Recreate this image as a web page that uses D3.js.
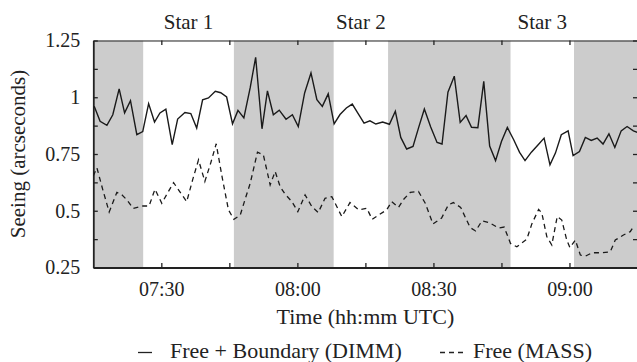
<!DOCTYPE html>
<html>
<head>
<meta charset="utf-8">
<script src="https://cdn.jsdelivr.net/npm/d3@7"></script>
</head>
<body style="margin:0">
<svg id="chart" width="637" height="362"></svg>
<script>
// minutes after 07:00 UTC, seeing in arcseconds
const dimmMin = [15.2,16.5,18.0,19.3,20.7,21.9,23.2,24.6,25.9,27.2,
  28.5,29.7,31.0,32.4,33.6,35.2,36.5,37.8,39.1,40.4,
  41.9,43.1,44.4,45.7,46.9,48.2,49.6,50.8,52.2,53.4,
  54.7,56.0,57.5,58.9,60.2,61.6,63.0,64.3,65.5,66.8,
  68.1,69.4,70.8,72.1,73.3,74.7,76.0,77.3,78.8,80.3,
  81.6,82.8,84.1,85.5,86.7,88.0,89.4,90.8,91.9,93.2,
  94.6,95.9,97.2,98.4,99.8,101.1,102.4,103.7,105.0,106.3,
  107.7,109.0,110.2,111.6,113.1,114.4,115.7,116.9,118.2,119.7,
  120.8,122.2,123.5,124.8,126.1,127.4,128.7,130.0,131.4,132.7,134.1,135.0];
const dimmSeeing = [0.960,0.894,0.876,0.923,1.037,0.931,0.985,0.835,0.849,0.972,
  0.891,0.931,0.948,0.791,0.904,0.933,0.928,0.864,0.989,0.997,
  1.026,1.020,1.001,0.883,0.942,0.909,1.042,1.176,0.861,1.028,
  0.923,0.943,0.903,0.923,0.871,1.019,1.107,0.989,0.960,1.015,
  0.883,0.924,0.953,0.970,0.931,0.886,0.896,0.882,0.891,0.881,
  0.938,0.823,0.772,0.783,0.864,0.948,0.869,0.801,0.794,1.022,
  1.093,0.889,0.919,0.868,0.866,1.070,0.785,0.721,0.805,0.867,
  0.813,0.757,0.721,0.758,0.791,0.820,0.702,0.754,0.835,0.852,
  0.743,0.761,0.823,0.810,0.820,0.794,0.839,0.779,0.852,0.871,0.852,0.845];

const massMin = [15.0,15.8,17.1,18.5,20.2,21.3,22.4,23.8,26.0,27.3,
  28.6,30.1,31.4,32.7,34.1,35.6,36.9,38.2,39.6,40.9,
  42.1,43.4,44.8,46.0,47.4,48.5,49.6,51.2,52.5,54.0,
  55.1,56.2,57.3,58.8,60.1,61.7,63.2,64.6,66.1,67.6,
  69.8,71.6,73.5,75.3,76.5,77.9,79.7,80.8,82.3,83.5,
  84.9,86.7,88.2,89.9,91.8,93.3,94.4,96.0,98.1,99.3,
  100.7,102.3,104.4,105.6,107.0,108.4,110.6,111.7,113.2,113.9,
  115.0,116.1,117.3,118.3,119.4,120.1,121.3,122.4,123.5,125.0,
  127.2,129.0,130.1,131.9,133.4,134.2];
const massSeeing = [0.654,0.689,0.592,0.495,0.581,0.570,0.548,0.510,0.521,0.521,
  0.595,0.533,0.579,0.624,0.583,0.540,0.636,0.724,0.629,0.711,
  0.795,0.649,0.504,0.462,0.481,0.552,0.621,0.758,0.746,0.614,
  0.673,0.606,0.573,0.540,0.496,0.570,0.518,0.492,0.555,0.562,
  0.474,0.536,0.504,0.511,0.462,0.481,0.504,0.540,0.515,0.552,
  0.581,0.585,0.533,0.442,0.468,0.526,0.536,0.515,0.426,0.411,
  0.455,0.448,0.424,0.428,0.356,0.341,0.375,0.442,0.506,0.490,
  0.386,0.349,0.475,0.459,0.371,0.338,0.371,0.305,0.300,0.315,
  0.315,0.319,0.371,0.393,0.408,0.433];

// star observation windows (white), everything else shaded
const starNames = ["Star 1", "Star 2", "Star 3"];
const starStart = ["07:26", "08:08", "08:47"];
const starEnd   = ["07:46", "08:20", "09:01"];

const yTicks = [0.25,0.375,0.5,0.625,0.75,0.875,1,1.125,1.25];
const legendNames = ["Free + Boundary (DIMM)", "Free (MASS)"];

const margin = {left: 93.3, top: 40.5, right: 637.5, bottom: 267.5};
const svg = d3.select("#chart");

// serif text helper
function serif(sel, size) {
  return sel.attr("font-family", "Liberation Serif")
    .style("font-family", "'Liberation Serif'")
    .style("font-size", size + "px")
    .attr("fill", "#222");
}

const toDate = m => new Date(Date.UTC(2000, 0, 1, 7, 0) + m * 60000);
const parseHM = s => { const [h, m] = s.split(":").map(Number); return toDate((h - 7) * 60 + m); };

const x = d3.scaleUtc()
  .domain([toDate(15), toDate(135)])
  .range([margin.left, margin.right]);
const y = d3.scaleLinear()
  .domain([0.25, 1.25])
  .range([margin.bottom, margin.top]);

// background shading
svg.append("rect")
  .attr("x", margin.left).attr("y", margin.top)
  .attr("width", margin.right - margin.left)
  .attr("height", margin.bottom - margin.top)
  .attr("fill", "#cccccc");

svg.selectAll("rect.star")
  .data(starNames)
  .join("rect")
  .attr("class", "star")
  .attr("x", (d, i) => x(parseHM(starStart[i])))
  .attr("y", margin.top)
  .attr("width", (d, i) => x(parseHM(starEnd[i])) - x(parseHM(starStart[i])))
  .attr("height", margin.bottom - margin.top)
  .attr("fill", "#fff");

svg.selectAll("text.star")
  .data(starNames)
  .join("text")
  .attr("class", "star")
  .attr("x", (d, i) => (x(parseHM(starStart[i])) + x(parseHM(starEnd[i]))) / 2)
  .attr("y", 29)
  .attr("text-anchor", "middle")
  .call(serif, 21)
  .text(d => d);

// axes
const xTicks = d3.range(30, 135, 15).map(toDate);
const fmtX = d3.utcFormat("%H:%M");

const bottomAxis = d3.axisBottom(x)
  .tickValues(xTicks)
  .tickSizeInner(-4.5).tickSizeOuter(0)
  .tickPadding(14)
  .tickFormat(d => d.getUTCMinutes() % 30 === 0 ? fmtX(d) : "");
const topAxis = d3.axisTop(x)
  .tickValues(xTicks)
  .tickSizeInner(-4.5).tickSizeOuter(0)
  .tickFormat("");
const leftAxis = d3.axisLeft(y)
  .tickValues(yTicks)
  .tickSizeInner(-4.5).tickSizeOuter(0)
  .tickPadding(13)
  .tickFormat(d => (d * 100) % 25 === 0 ? d3.format("~g")(d) : "");
const rightAxis = d3.axisRight(y)
  .tickValues(yTicks)
  .tickSizeInner(-4.5).tickSizeOuter(0)
  .tickFormat("");

function styleAxis(g, w) {
  g.attr("font-family", "Liberation Serif").attr("font-size", 20);
  g.select(".domain").attr("stroke", "#222").attr("stroke-width", w);
  g.selectAll(".tick line").attr("stroke", "#222").attr("stroke-width", 1.3);
  g.selectAll(".tick text").call(serif, 20);
}

svg.append("g").attr("transform", `translate(0,${margin.top})`).call(topAxis).call(g => styleAxis(g, 1));
svg.append("g").attr("transform", `translate(${margin.right},0)`).call(rightAxis).call(g => styleAxis(g, 1));
svg.append("g").attr("transform", `translate(0,${margin.bottom})`).call(bottomAxis).call(g => styleAxis(g, 1.8));
svg.append("g").attr("transform", `translate(${margin.left},0)`).call(leftAxis).call(g => styleAxis(g, 1.8));

// series
const line = d3.line()
  .x(d => x(toDate(d[0])))
  .y(d => y(d[1]));

const plot = svg.append("g");
plot.append("clipPath").attr("id", "clip")
  .append("rect")
  .attr("x", margin.left).attr("y", margin.top)
  .attr("width", margin.right - margin.left)
  .attr("height", margin.bottom - margin.top);

plot.append("path")
  .datum(d3.zip(massMin, massSeeing))
  .attr("clip-path", "url(#clip)")
  .attr("d", line)
  .attr("fill", "none")
  .attr("stroke", "#1a1a1a")
  .attr("stroke-width", 1.3)
  .attr("stroke-dasharray", "5,4");

plot.append("path")
  .datum(d3.zip(dimmMin, dimmSeeing))
  .attr("clip-path", "url(#clip)")
  .attr("d", line)
  .attr("fill", "none")
  .attr("stroke", "#1a1a1a")
  .attr("stroke-width", 1.4);

// axis titles
svg.append("text")
  .attr("x", (margin.left + margin.right) / 2)
  .attr("y", 324)
  .attr("text-anchor", "middle")
  .call(serif, 22)
  .text("Time (hh:mm UTC)");

svg.append("text")
  .attr("transform", `translate(25,${(margin.top + margin.bottom) / 2}) rotate(-90)`)
  .attr("text-anchor", "middle")
  .call(serif, 21)
  .text("Seeing (arcseconds)");

// legend
const legend = svg.append("g");
legend.append("line")
  .attr("x1", 138).attr("x2", 152).attr("y1", 352.5).attr("y2", 352.5)
  .attr("stroke", "#222").attr("stroke-width", 1.3);
legend.append("text")
  .attr("x", 170).attr("y", 358)
  .call(serif, 22)
  .text(legendNames[0]);
legend.append("line")
  .attr("x1", 440).attr("x2", 464).attr("y1", 352.5).attr("y2", 352.5)
  .attr("stroke", "#222").attr("stroke-width", 1.3)
  .attr("stroke-dasharray", "5,4");
legend.append("text")
  .attr("x", 473).attr("y", 358)
  .call(serif, 22)
  .text(legendNames[1]);
</script>
</body>
</html>
